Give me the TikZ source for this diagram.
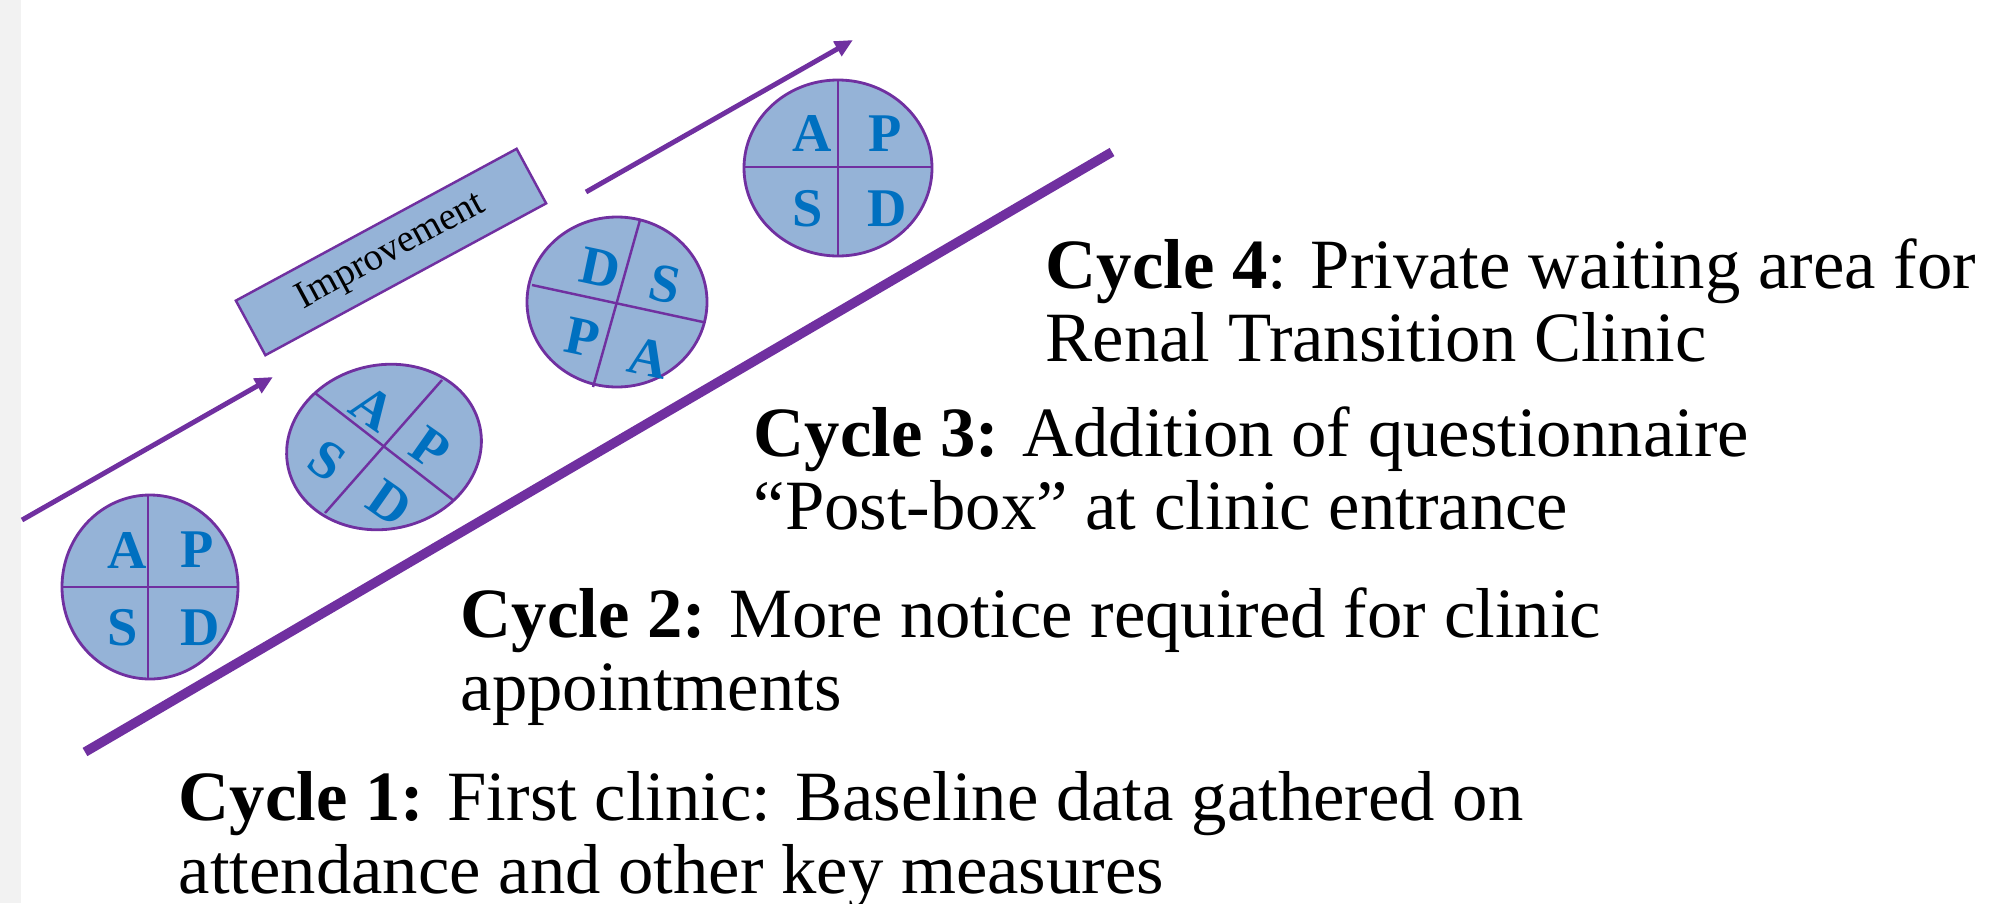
\documentclass[tikz,border=0pt]{standalone}
\usepackage{fontspec}
\setmainfont{Liberation Serif}
\usetikzlibrary{arrows.meta}
\definecolor{purp}{HTML}{7030A0}
\definecolor{pdsafill}{HTML}{95B3D7}
\definecolor{letblue}{HTML}{0070C0}
\definecolor{strip}{HTML}{F2F2F2}

\begin{document}
\begin{tikzpicture}
	[
	x=0.01cm, y=-0.01cm,
	pdsa/.style={draw=purp, line width=0.8pt, fill=pdsafill},
	cross/.style={draw=purp, line width=0.7pt},
	letter/.style={text=letblue, inner sep=0pt, font=\fontsize{15.5}{15.5}\selectfont\bfseries},
	impbox/.style={draw=purp, fill=pdsafill, line width=0.7pt, inner sep=0pt,
		minimum width=3.19cm, minimum height=0.62cm, font=\fontsize{11}{11}\selectfont},
	trend/.style={draw=purp, line width=1.4pt, -{Triangle[length=0.18cm, width=0.16cm]}},
	cycle/.style={anchor=north west, inner sep=0pt, align=left,
		font=\fontsize{20.1}{20.8}\selectfont}]
	\useasboundingbox (0,0) rectangle (1992,903);
	\fill[strip] (0,0) rectangle (21,903);
	% arrows and base line
	\coordinate (arr1s) at (22,520);
	\coordinate (arr1e) at (273,377);
	\coordinate (arr2s) at (586,192);
	\coordinate (arr2e) at (853,40);
	\coordinate (base1) at (85,752);
	\coordinate (base2) at (1112,152);
	\draw[trend] (arr1s) -- (arr1e);
	\draw[trend] (arr2s) -- (arr2e);
	\draw[purp, line width=2.7pt] (base1) -- (base2);
	\node (imp) [impbox, rotate=28.4] at (391,252) {Improvement};
	% cycle 1
	\draw[pdsa] (150,587) ellipse (88 and 92);
	\draw[cross] (148,495) -- (148,679);
	\draw[cross] (62,587) -- (238,587);
	\node (c1a) [letter] at (127,550) {A};
	\node (c1p) [letter] at (197,550) {P};
	\node (c1s) [letter] at (123,628) {S};
	\node (c1d) [letter] at (200,628) {D};
	% cycle 2
	\draw[pdsa, rotate around={12:(384,447)}] (384,447) ellipse (98 and 82);
	\draw[cross] (315,393) -- (453,500);
	\draw[cross] (442,380) -- (325,513);
	\node (c2a) [letter, rotate=-35] at (373,408) {A};
	\node (c2p) [letter, rotate=-35] at (430,448) {P};
	\node (c2d) [letter, rotate=-35] at (390,503) {D};
	\node (c2s) [letter, rotate=-35] at (327,461) {S};
	% cycle 3
	\draw[pdsa] (617,302) ellipse (90 and 85);
	\draw[cross] (532,285) -- (703,322);
	\draw[cross] (640,220) -- (593,387);
	\node (c3d) [letter, rotate=-12] at (600,268) {D};
	\node (c3s) [letter, rotate=-12] at (665,284) {S};
	\node (c3p) [letter, rotate=-12] at (582,338) {P};
	\node (c3a) [letter, rotate=-12] at (648,358) {A};
	% cycle 4
	\draw[pdsa] (838,168) ellipse (94 and 88);
	\draw[cross] (838,80) -- (838,256);
	\draw[cross] (744,167) -- (932,167);
	\node (c4a) [letter] at (812,134) {A};
	\node (c4p) [letter] at (885,134) {P};
	\node (c4s) [letter] at (808,209) {S};
	\node (c4d) [letter] at (887,209) {D};
	% texts
	\node (t4) [cycle] at (1045,238) {\textbf{Cycle 4}: Private waiting area for\\Renal Transition Clinic};
	\node (t3) [cycle] at (753,406) {\textbf{Cycle 3:} Addition of questionnaire\\``Post-box'' at clinic entrance};
	\node (t2) [cycle] at (460,587) {\textbf{Cycle 2:} More notice required for clinic\\appointments};
	\node (t1) [cycle] at (178,771) {\textbf{Cycle 1:} First clinic: Baseline data gathered on\\attendance and other key measures};
\end{tikzpicture}
\end{document}
